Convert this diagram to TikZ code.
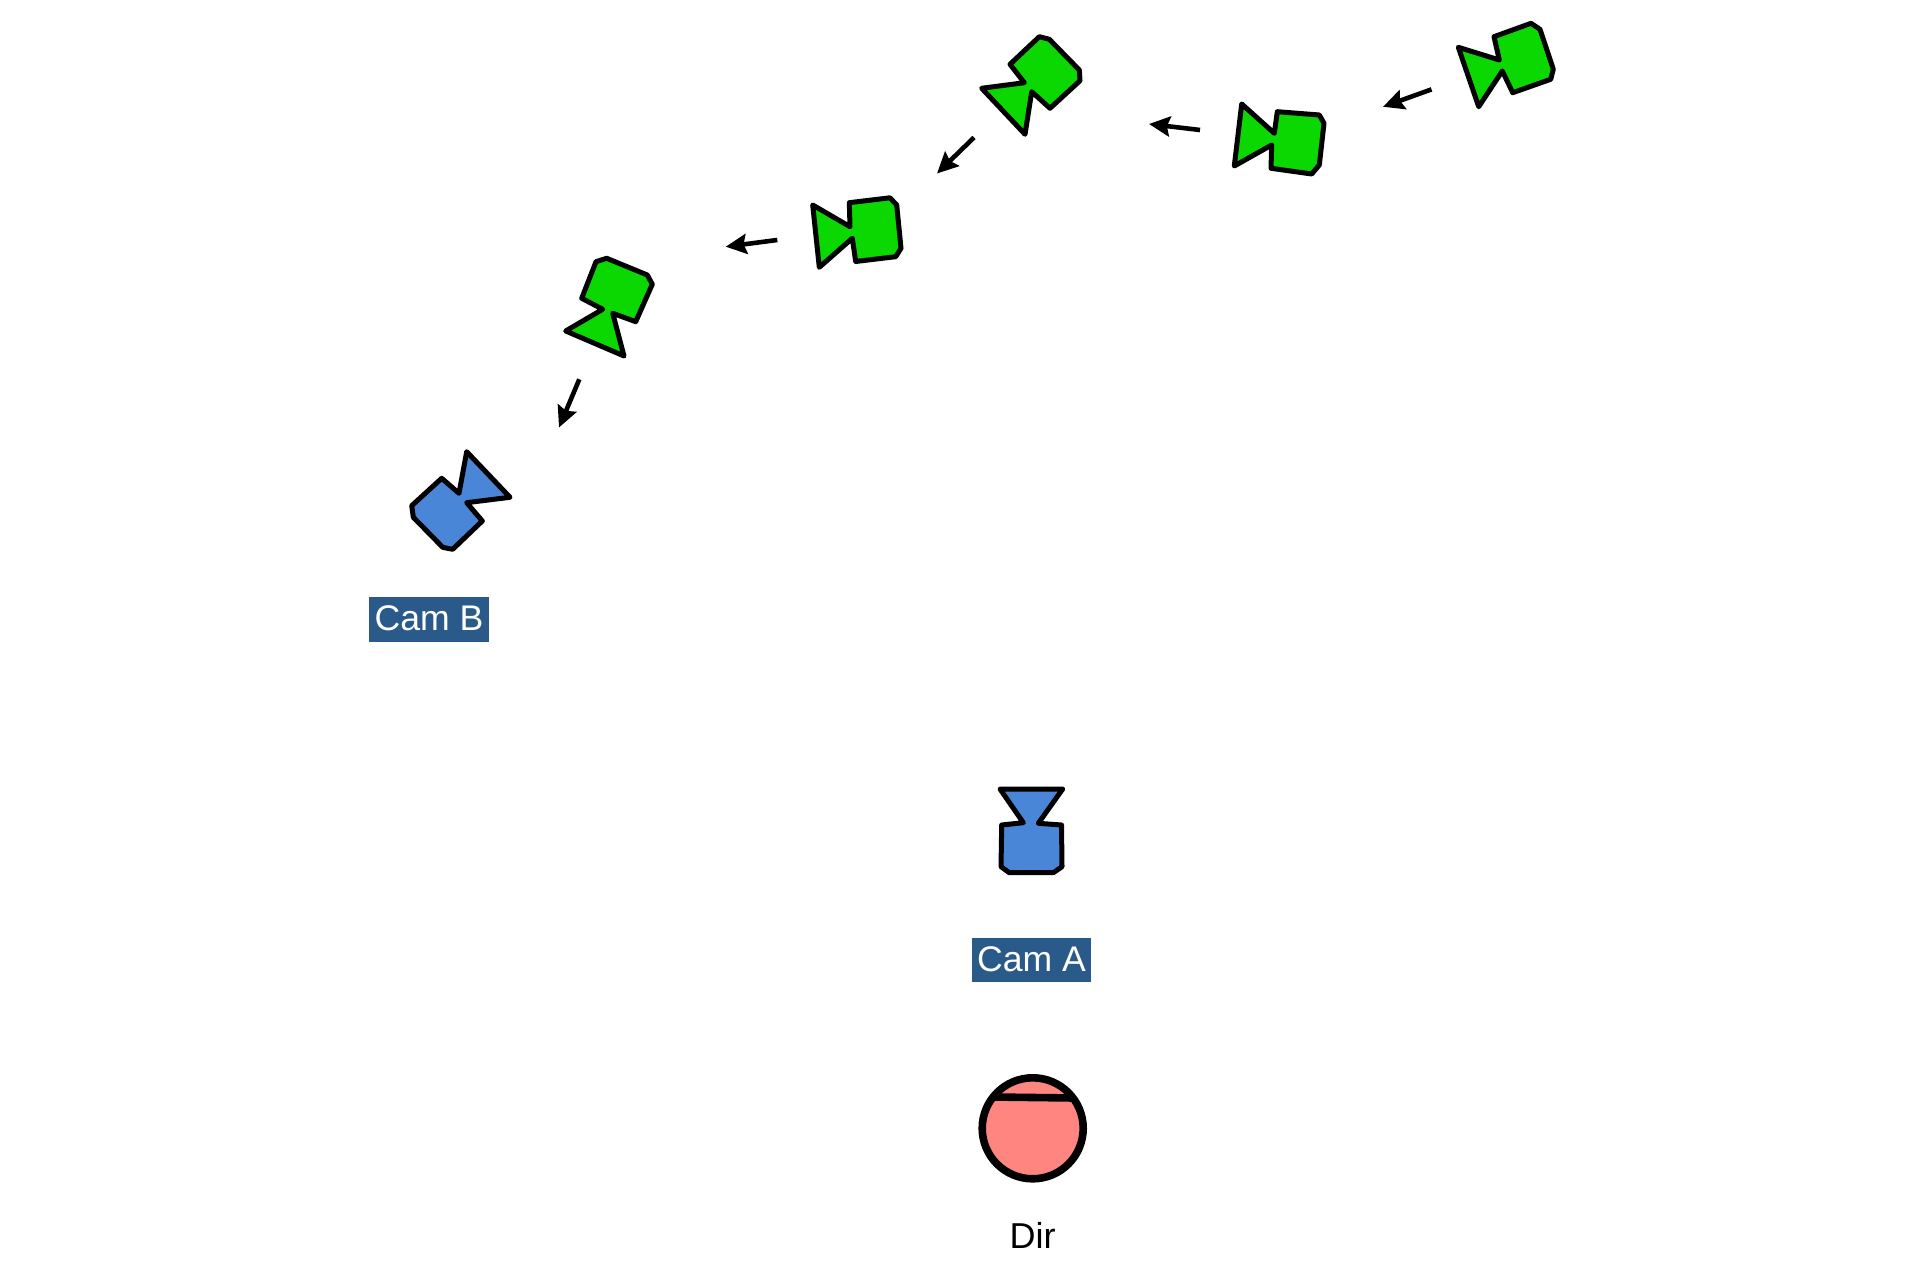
\documentclass[tikz,border=0pt]{standalone}
\usepackage{fontspec}
\setmainfont{Liberation Sans}
\usetikzlibrary{arrows.meta}
\definecolor{camgreen}{HTML}{0AD800}
\definecolor{camblue}{HTML}{4A86D8}
\definecolor{headred}{HTML}{FF8680}
\definecolor{tagblue}{HTML}{2A5A8A}
\tikzset{
  greencam/.style={draw=black,fill=camgreen,line width=2.5pt,line join=round},
  bluecam/.style={draw=black,fill=camblue,line width=2.5pt,line join=round},
  movearrow/.style={draw=black,line width=2.3pt,-{Stealth[length=10.5pt,width=10pt,inset=1.5pt]}},
  camtag/.style={fill=tagblue,text=white,font=\fontsize{17.8pt}{20pt}\selectfont,inner sep=0pt,anchor=center},
  plaintag/.style={text=black,font=\fontsize{18pt}{20pt}\selectfont,inner sep=0pt,anchor=center},
}
\begin{document}
\begin{tikzpicture}[x=0.5pt,y=-0.5pt]
\useasboundingbox (0,0) rectangle (1920,1288);
\fill[white] (0,0) rectangle (1920,1288);
% green cameras
\path[greencam] (1458.3,47.3) -- (1499.3,60) -- (1494,36.7) -- (1531,23.3) -- (1540,29.3) -- (1553.3,69.3) -- (1550.7,79.3) -- (1512.7,92.7) -- (1502.3,71) -- (1478.7,106.7) -- cycle;
\path[greencam] (1241.7,104) -- (1274.3,133.3) -- (1277.3,111.7) -- (1319.3,115) -- (1324,123.3) -- (1319.3,165) -- (1311.7,174) -- (1271,168.3) -- (1271.7,145) -- (1234.3,166) -- cycle;
\path[greencam] (981.7,88.3) -- (1024.3,82.7) -- (1010,64.3) -- (1039.3,36.7) -- (1049.3,39.3) -- (1079.3,70) -- (1080,80.7) -- (1050,108.3) -- (1031.7,91.7) -- (1025,134.3) -- cycle;
\path[greencam] (812.7,205) -- (850,226.7) -- (849.3,202.7) -- (890,197.8) -- (896.7,205) -- (901,248.3) -- (895.7,256.7) -- (855.7,261.5) -- (852.3,238.3) -- (819.3,267.3) -- cycle;
\path[greencam] (565.7,331) -- (602.7,309.3) -- (581.7,298.3) -- (596,261.7) -- (606.7,258.3) -- (647.3,275) -- (652.3,284.3) -- (635.7,321.7) -- (612.7,313.3) -- (624,356) -- cycle;
% blue cameras
\path[bluecam] (466.7,451.7) -- (510,497.3) -- (466.7,502.7) -- (482.3,521) -- (452.7,549.3) -- (442.7,547.3) -- (413.3,517.3) -- (411.7,505.7) -- (441.7,478.3) -- (459,493.3) -- cycle;
\path[bluecam] (1000,789) -- (1062.7,789) -- (1038.3,823.3) -- (1061.5,825) -- (1062,866.7) -- (1053.3,872.7) -- (1009.3,872.7) -- (1001,866.7) -- (1001.7,825) -- (1023.3,822.7) -- cycle;
% movement arrows
\coordinate (a1s) at (1431.5,89.4); \coordinate (a1e) at (1383,106.8);
\coordinate (a2s) at (1200,130);    \coordinate (a2e) at (1149,124);
\coordinate (a3s) at (974,137.5);   \coordinate (a3e) at (937,173.5);
\coordinate (a4s) at (777.3,240);   \coordinate (a4e) at (725.7,246.7);
\coordinate (a5s) at (579.3,379.3); \coordinate (a5e) at (559,427.5);
\draw[movearrow] (a1s) -- (a1e);
\draw[movearrow] (a2s) -- (a2e);
\draw[movearrow] (a3s) -- (a3e);
\draw[movearrow] (a4s) -- (a4e);
\draw[movearrow] (a5s) -- (a5e);
% labels
\node[camtag,minimum width=60pt,minimum height=22.8pt] (camb) at (429,619.5) {\raisebox{1pt}{Cam B}};
\node[camtag,minimum width=59.5pt,minimum height=22.4pt] (cama) at (1031.5,960) {\raisebox{1pt}{Cam A}};
\node[plaintag] (dir) at (1032.5,1235) {Dir};
% director head
\draw[line width=3.8pt,fill=headred] (1032.7,1128.3) circle[radius=50.5];
\draw[line width=3.8pt] (991.7,1097) -- (1074,1098);
\end{tikzpicture}
\end{document}
